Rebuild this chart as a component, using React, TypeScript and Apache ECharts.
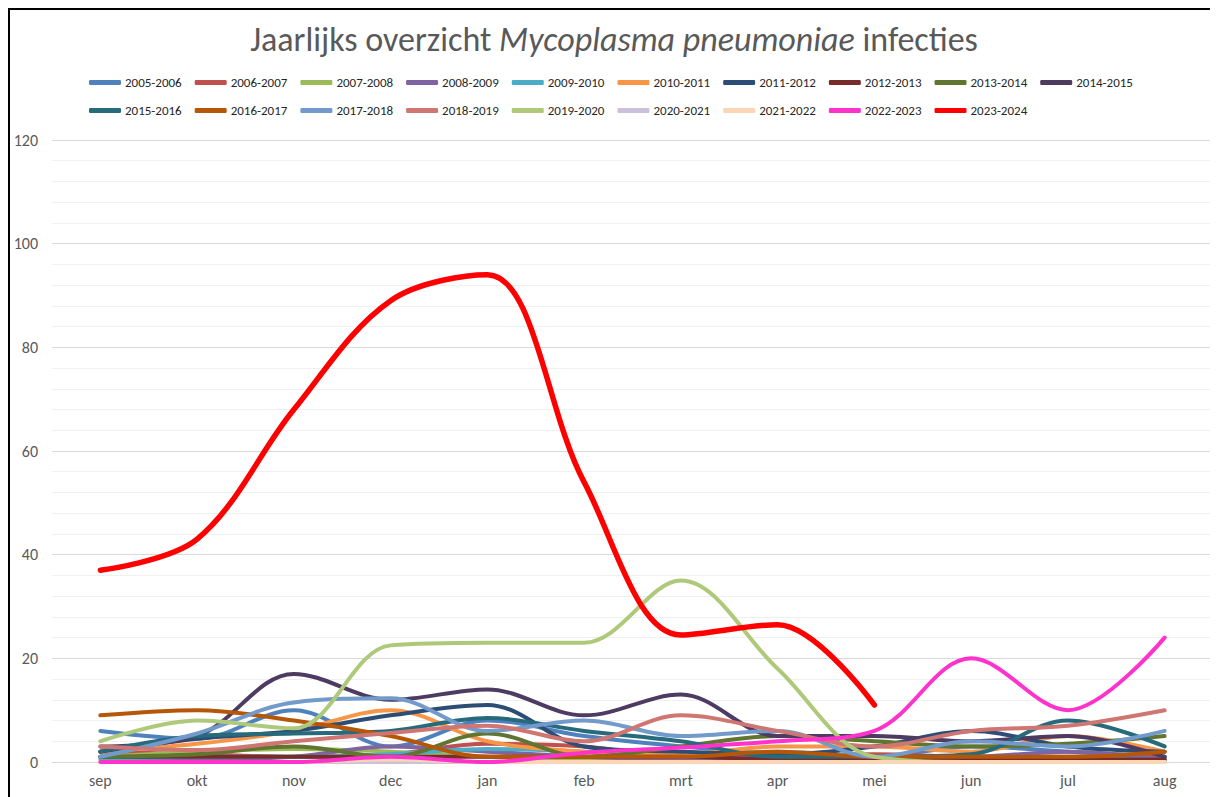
import React, { useEffect, useRef } from "react";
import * as echarts from "echarts";

const months = ["sep", "okt", "nov", "dec", "jan", "feb", "mrt", "apr", "mei", "jun", "jul", "aug"];

const seasons = [
  "2005-2006", "2006-2007", "2007-2008", "2008-2009", "2009-2010", "2010-2011",
  "2011-2012", "2012-2013", "2013-2014", "2014-2015", "2015-2016", "2016-2017",
  "2017-2018", "2018-2019", "2019-2020", "2020-2021", "2021-2022", "2022-2023", "2023-2024",
];

const colors = [
  "#4f81bd", "#c0504d", "#9bbb59", "#8064a2", "#4bacc6", "#f79646",
  "#2c4d75", "#772c2a", "#5f7530", "#4d3b62", "#276a7c", "#b65708",
  "#729aca", "#d07672", "#afc97a", "#ccc1da", "#fcd5b4", "#ff33cc", "#ff0000",
];

const s2005 = [6, 4.5, 10, 3, 8, 5, 3, 1.5, 1, 3, 2, 1];
const s2006 = [2, 1.5, 1, 1.5, 3.5, 3, 1, 1, 1.5, 1, 1, 1];
const s2007 = [1, 2, 2.5, 2, 1, 0.5, 1, 0.5, 0.5, 1, 0.5, 0.5];
const s2008 = [1, 0.5, 1, 3, 2, 1, 0.5, 1, 1, 1, 2, 0.5];
const s2009 = [0.5, 1, 1, 1.5, 2.5, 2, 1, 2, 1, 0.5, 0.5, 0.5];
const s2010 = [2, 3.5, 6, 10, 4, 2, 1.5, 3, 3, 2, 5, 2];
const s2011 = [2, 4.5, 6, 9, 11, 3, 2, 1.5, 3, 6, 3, 2];
const s2012 = [1, 1, 1, 1, 1, 1, 1, 0.5, 0.5, 0.5, 0.5, 0.5];
const s2013 = [1, 1.5, 3, 1, 5.5, 1, 3, 5, 4, 3, 3.5, 5];
const s2014 = [3, 5, 17, 12, 14, 9, 13, 5, 5, 4, 5, 1];
const s2015 = [2, 5, 5.5, 6, 8.5, 6, 4, 1, 1, 1.5, 8, 3];
const s2016 = [9, 10, 8, 5, 1, 1, 1, 2, 1, 1, 1, 2];
const s2017 = [1, 5.5, 11.5, 12.3, 6, 8, 5, 6, 1, 4, 3, 6];
const s2018 = [3, 2.3, 4, 5.6, 7, 4, 9, 6, 3, 6, 7, 10];
const s2019 = [4, 8, 6.5, 22.5, 23, 23, 35, 18, 1, 0, 0, 0];
const s2020 = [0, 0, 0, 0, 0, 0, 0, 0, 0, 0, 0, 0];
const s2021 = [0, 0, 0, 0.5, 0, 0, 0, 0, 0, 0, 0, 0];
const s2022 = [0, 0, 0, 1, 0, 1.8, 2.8, 4, 6, 20, 10, 24];
const s2023 = [37, 43, 68, 89, 94, 54, 24.5, 26.5, 11];

const seriesValues = [
  s2005, s2006, s2007, s2008, s2009, s2010, s2011, s2012, s2013, s2014,
  s2015, s2016, s2017, s2018, s2019, s2020, s2021, s2022, s2023,
];

const yTicks = { min: 0, max: 120, interval: 20 };

const FONT = "Carlito, Lato, 'Liberation Sans', sans-serif";

export default function App() {
  const ref = useRef<HTMLDivElement>(null);
  useEffect(() => {
    document.body.style.overflow = "hidden";
    const chart = echarts.init(ref.current!, null, { renderer: "svg" });
    const series = seasons.map((name, i) => ({
      name,
      type: "line",
      data: seriesValues[i],
      smooth: 0.35,
      symbol: "none",
      lineStyle: {
        color: colors[i],
        width: i === seasons.length - 1 ? 5.5 : 4,
        cap: "round",
        join: "round",
      },
      itemStyle: { color: colors[i] },
    }));
    chart.setOption({
      animation: false,
      backgroundColor: "#ffffff",
      title: {
        left: "center",
        top: 7,
        text: "{a|Jaarlijks overzicht }{b|Mycoplasma pneumoniae}{a| infecties}",
        textStyle: {
          rich: {
            a: { fontSize: 34, color: "#595959", fontFamily: FONT, fontWeight: "normal" },
            b: { fontSize: 34, color: "#595959", fontFamily: FONT, fontWeight: "normal", fontStyle: "italic" },
          },
        },
      },
      legend: {
        left: 74,
        top: 60,
        width: 1100,
        itemWidth: 32,
        itemHeight: 5,
        itemGap: 13,
        icon: "roundRect",
        textStyle: { fontSize: 13, lineHeight: 15, color: "#262626", fontFamily: FONT, padding: [0, 0, 0, -1] },
        data: seasons.map((name, i) => ({ name, itemStyle: { color: colors[i] } })),
      },
      grid: { left: 42, right: 5, top: 130, bottom: 35, containLabel: false },
      xAxis: {
        type: "category",
        data: months,
        boundaryGap: true,
        axisLine: { lineStyle: { color: "#d9d9d9", width: 1 } },
        axisTick: { show: false },
        axisLabel: { color: "#595959", fontSize: 16, fontFamily: FONT, margin: 10 },
      },
      yAxis: {
        type: "value",
        min: yTicks.min,
        max: yTicks.max,
        interval: yTicks.interval,
        axisLine: { show: false },
        axisTick: { show: false },
        axisLabel: { color: "#595959", fontSize: 16, fontFamily: FONT, margin: 14 },
        splitLine: { lineStyle: { color: "#d9d9d9", width: 1 } },
        minorTick: { show: false, splitNumber: 5 },
        minorSplitLine: { show: true, lineStyle: { color: "#f0f0f0", width: 1 } },
      },
      series,
    });
    return () => chart.dispose();
  }, []);
  return (
    <div
      style={{
        width: 1210,
        height: 789,
        boxSizing: "border-box",
        borderTop: "2px solid #000",
        borderLeft: "2px solid #000",
        background: "#fff",
      }}
    >
      <div ref={ref} style={{ width: 1208, height: 787 }} />
    </div>
  );
}
